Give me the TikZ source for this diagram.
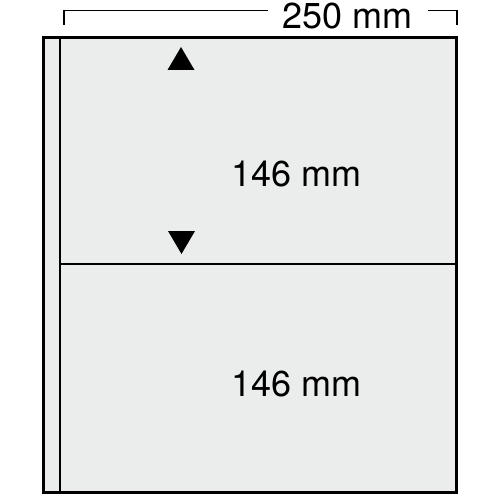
\documentclass[tikz,border=0pt]{standalone}
\usepackage{fontspec}
\setmainfont{TeX Gyre Heros}
\definecolor{panel}{HTML}{EBEDEC}
\begin{document}
\begin{tikzpicture}[x=1pt,y=-1pt,
  lbl/.style={font=\fontsize{36}{36}\selectfont, inner sep=0pt},
  tri/.style={fill=black, draw=none}]
\useasboundingbox (0,0) rectangle (500,500);
% sheet
\fill[panel] (43,38) rectangle (456,492);
\draw[line width=3] (43,38) rectangle (456,492);
\draw[line width=2.6] (60,38) -- (60,492);
\draw[line width=1.6] (60,264) -- (456,264);
% dimension bracket
\node[lbl] (w) at (347.5,16) {250 mm};
\draw[line width=1.8] (64,25) -- (64,10.5) -- (268,10.5);
\draw[line width=1.8] (428,10.5) -- (457,10.5) -- (457,25);
% arrows
\fill[tri] (181,47) -- (194.5,70) -- (167.5,70) -- cycle;
\fill[tri] (181.5,254) -- (195,231) -- (168,231) -- cycle;
% labels
\node[lbl] (a) at (296.5,174) {146 mm};
\node[lbl] (b) at (296.5,384) {146 mm};
\end{tikzpicture}
\end{document}
